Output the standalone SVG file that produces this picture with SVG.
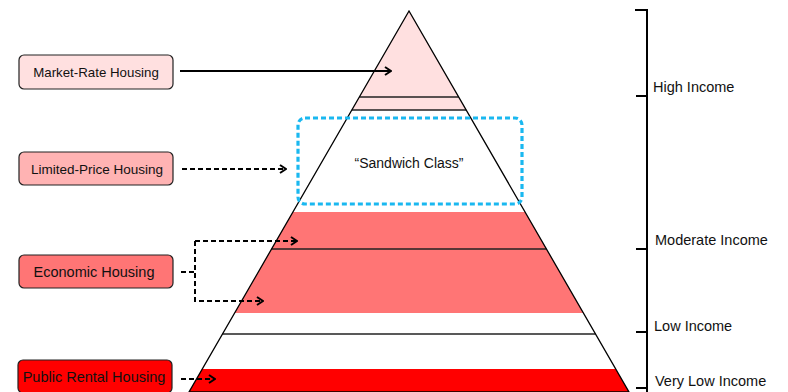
<svg xmlns="http://www.w3.org/2000/svg" width="788" height="392" viewBox="0 0 788 392">
<style>
.box{stroke:#222;stroke-width:1.2}
.lbl{font-family:"Liberation Sans",Arial,sans-serif;fill:#111;text-anchor:middle}
.inc{font-family:"Liberation Sans",Arial,sans-serif;fill:#111;font-size:14.5px}
.solid{fill:none;stroke:#000;stroke-width:2}
.dash{fill:none;stroke:#000;stroke-width:2;stroke-dasharray:5 3}
.band{stroke:none}
.sep{stroke:#222;stroke-width:1.3}
</style>
<defs>
<clipPath id="tri"><polygon points="409,11 189,392 629,392"/></clipPath>
<marker id="chev" viewBox="0 0 8 10" refX="7" refY="5" markerWidth="8" markerHeight="10" markerUnits="userSpaceOnUse" orient="auto">
<path d="M1,1 L7,5 L1,9" fill="none" stroke="#000" stroke-width="2"/>
</marker>
</defs>
<rect width="788" height="392" fill="#fff"/>
<g id="pyramid">
<g clip-path="url(#tri)">
<rect class="band" x="180" y="0" width="460" height="110" fill="#ffe0e0"/>
<rect class="band" x="180" y="212" width="460" height="101" fill="#ff7575"/>
<rect class="band" x="180" y="369" width="460" height="30" fill="#ff0000"/>
</g>
<line class="sep" x1="359.3" y1="97" x2="458.7" y2="97"/>
<line class="sep" x1="351.8" y1="110" x2="466.2" y2="110"/>
<line class="sep" x1="271.6" y1="249" x2="546.4" y2="249"/>
<line class="sep" x1="222.5" y1="334" x2="595.5" y2="334"/>
<polygon points="409,11 189,392 629,392" fill="none" stroke="#000" stroke-width="1.3"/>
</g>
<g id="sandwich">
<rect x="298" y="118" width="224" height="86" rx="7" fill="none" stroke="#1ab8f0" stroke-width="3.2" stroke-dasharray="5 3"/>
<text class="lbl" x="409" y="168" font-size="14">“Sandwich Class”</text>
</g>
<g id="market-rate">
<rect class="box" x="19" y="55" width="154" height="34" rx="5" fill="#ffe0e0"/>
<text class="lbl" x="96" y="77" font-size="13.3">Market-Rate Housing</text>
</g>
<g id="limited-price">
<rect class="box" x="19" y="152" width="154" height="33" rx="5" fill="#ffb3b3"/>
<text class="lbl" x="97" y="174" font-size="13.5">Limited-Price Housing</text>
</g>
<g id="economic">
<rect class="box" x="19" y="255" width="154" height="33" rx="5" fill="#ff7575"/>
<text class="lbl" x="94" y="277" font-size="14.5">Economic Housing</text>
</g>
<g id="public-rental">
<rect class="box" x="18" y="360" width="154" height="33" rx="5" fill="#ff0000"/>
<text class="lbl" x="94" y="382" font-size="14.5">Public Rental Housing</text>
</g>
<g id="connectors">
<line class="solid" x1="180" y1="71" x2="391" y2="71" marker-end="url(#chev)"/>
<line class="dash" x1="182" y1="169" x2="286" y2="169" marker-end="url(#chev)"/>
<path class="dash" d="M181,272 H195"/>
<path class="dash" d="M195,241 V301 H263" marker-end="url(#chev)"/>
<line class="dash" x1="195" y1="241" x2="297" y2="241" marker-end="url(#chev)"/>
<line class="dash" x1="181" y1="379" x2="215" y2="379" marker-end="url(#chev)"/>
</g>
<g id="income-scale">
<path d="M635,10 H647 V392" fill="none" stroke="#000" stroke-width="2"/>
<line x1="636" y1="96" x2="647" y2="96" stroke="#000" stroke-width="2"/>
<line x1="636" y1="249" x2="647" y2="249" stroke="#000" stroke-width="2"/>
<line x1="636" y1="332" x2="647" y2="332" stroke="#000" stroke-width="2"/>
<line x1="636" y1="388" x2="647" y2="388" stroke="#000" stroke-width="2"/>
<text class="inc" x="653" y="92">High Income</text>
<text class="inc" x="655" y="245">Moderate Income</text>
<text class="inc" x="654" y="331">Low Income</text>
<text class="inc" x="655" y="386">Very Low Income</text>
</g>
</svg>
